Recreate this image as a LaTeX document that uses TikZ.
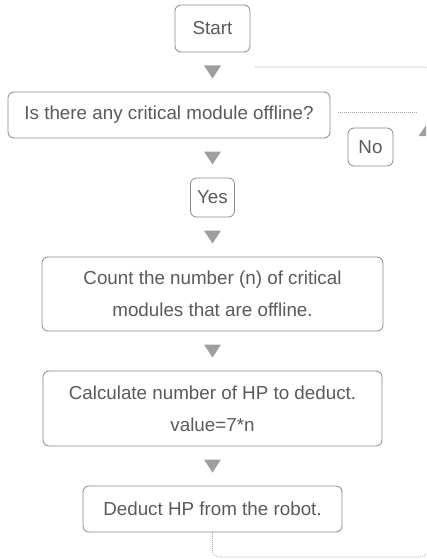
\documentclass[tikz,border=0pt]{standalone}
\usepackage{fontspec}
\setmainfont{Liberation Sans}
\usepackage{xcolor}
\usetikzlibrary{positioning}

\definecolor{boxline}{HTML}{888888}
\definecolor{textgray}{HTML}{5A5A5A}
\definecolor{arrowgray}{HTML}{9E9E9E}
\definecolor{dotgray}{HTML}{A6A6A6}

\begin{document}
\begin{tikzpicture}[x=1pt, y=-1pt, font=\fontsize{18.8}{32}\selectfont, text=textgray,
  node distance=13.5pt,
  box/.style={draw=boxline, line width=0.8pt, rounded corners=6pt, align=center, inner sep=0pt, outer sep=0pt},
  tridown/.style={minimum width=17pt, minimum height=13pt, inner sep=0pt, outer sep=0pt,
    path picture={\fill[arrowgray] (path picture bounding box.north west) -- (path picture bounding box.north east) -- (path picture bounding box.south) -- cycle;}},
  triup/.style={minimum width=17pt, minimum height=12pt, inner sep=0pt, outer sep=0pt,
    path picture={\fill[arrowgray] (path picture bounding box.south west) -- (path picture bounding box.south east) -- (path picture bounding box.north) -- cycle;}},
  loopline/.style={draw=dotgray, line width=0.6pt, dash pattern=on 1pt off 1pt, rounded corners=6pt}]
\useasboundingbox (0,0) rectangle (426,559);
\clip (0,0) rectangle (426,559);

\node[box, minimum width=75pt, minimum height=47pt] (start) at (212.5,28.5) {Start};
\node[tridown, below=of start] (arr1) {};
\node[box, below=of arr1, xshift=-43.5pt, minimum width=322pt, minimum height=46pt] (ask) {Is there any critical module offline?};
\node[tridown, below=of ask, xshift=43.5pt] (arr2) {};
\node[box, below=of arr2, minimum width=44pt, minimum height=39pt] (yes) {Yes};
\node[tridown, below=of yes] (arr3) {};
\node[box, below=of arr3, minimum width=341pt, minimum height=74pt] (count) {Count the number (n) of critical\\ modules that are offline.};
\node[tridown, below=of count] (arr4) {};
\node[box, below=of arr4, minimum width=339pt, minimum height=75pt] (calc) {Calculate number of HP to deduct.\\ value=7*n};
\node[tridown, below=of calc] (arr5) {};
\node[box, below=of arr5, minimum width=259pt, minimum height=46pt] (deduct) {Deduct HP from the robot.};
\node[box, right=18pt of ask, yshift=-32pt, minimum width=45pt, minimum height=38pt] (no) {No};

% loop back on the right
\node[triup] (backarr) at (427,130) {};
\coordinate (botright) at (427,557);
\coordinate (topstart) at (255,67);
\coordinate (topright) at (429,67);
\coordinate (topdown) at (429,112);
\coordinate (noend) at (417,112);
\draw[loopline] (deduct.south) |- (botright) -- (backarr.south);
\draw[loopline] (topstart) -- (topright) -- (topdown);
\draw[loopline] ([xshift=8pt, yshift=3pt]ask.east) -- (noend);
\end{tikzpicture}
\end{document}
